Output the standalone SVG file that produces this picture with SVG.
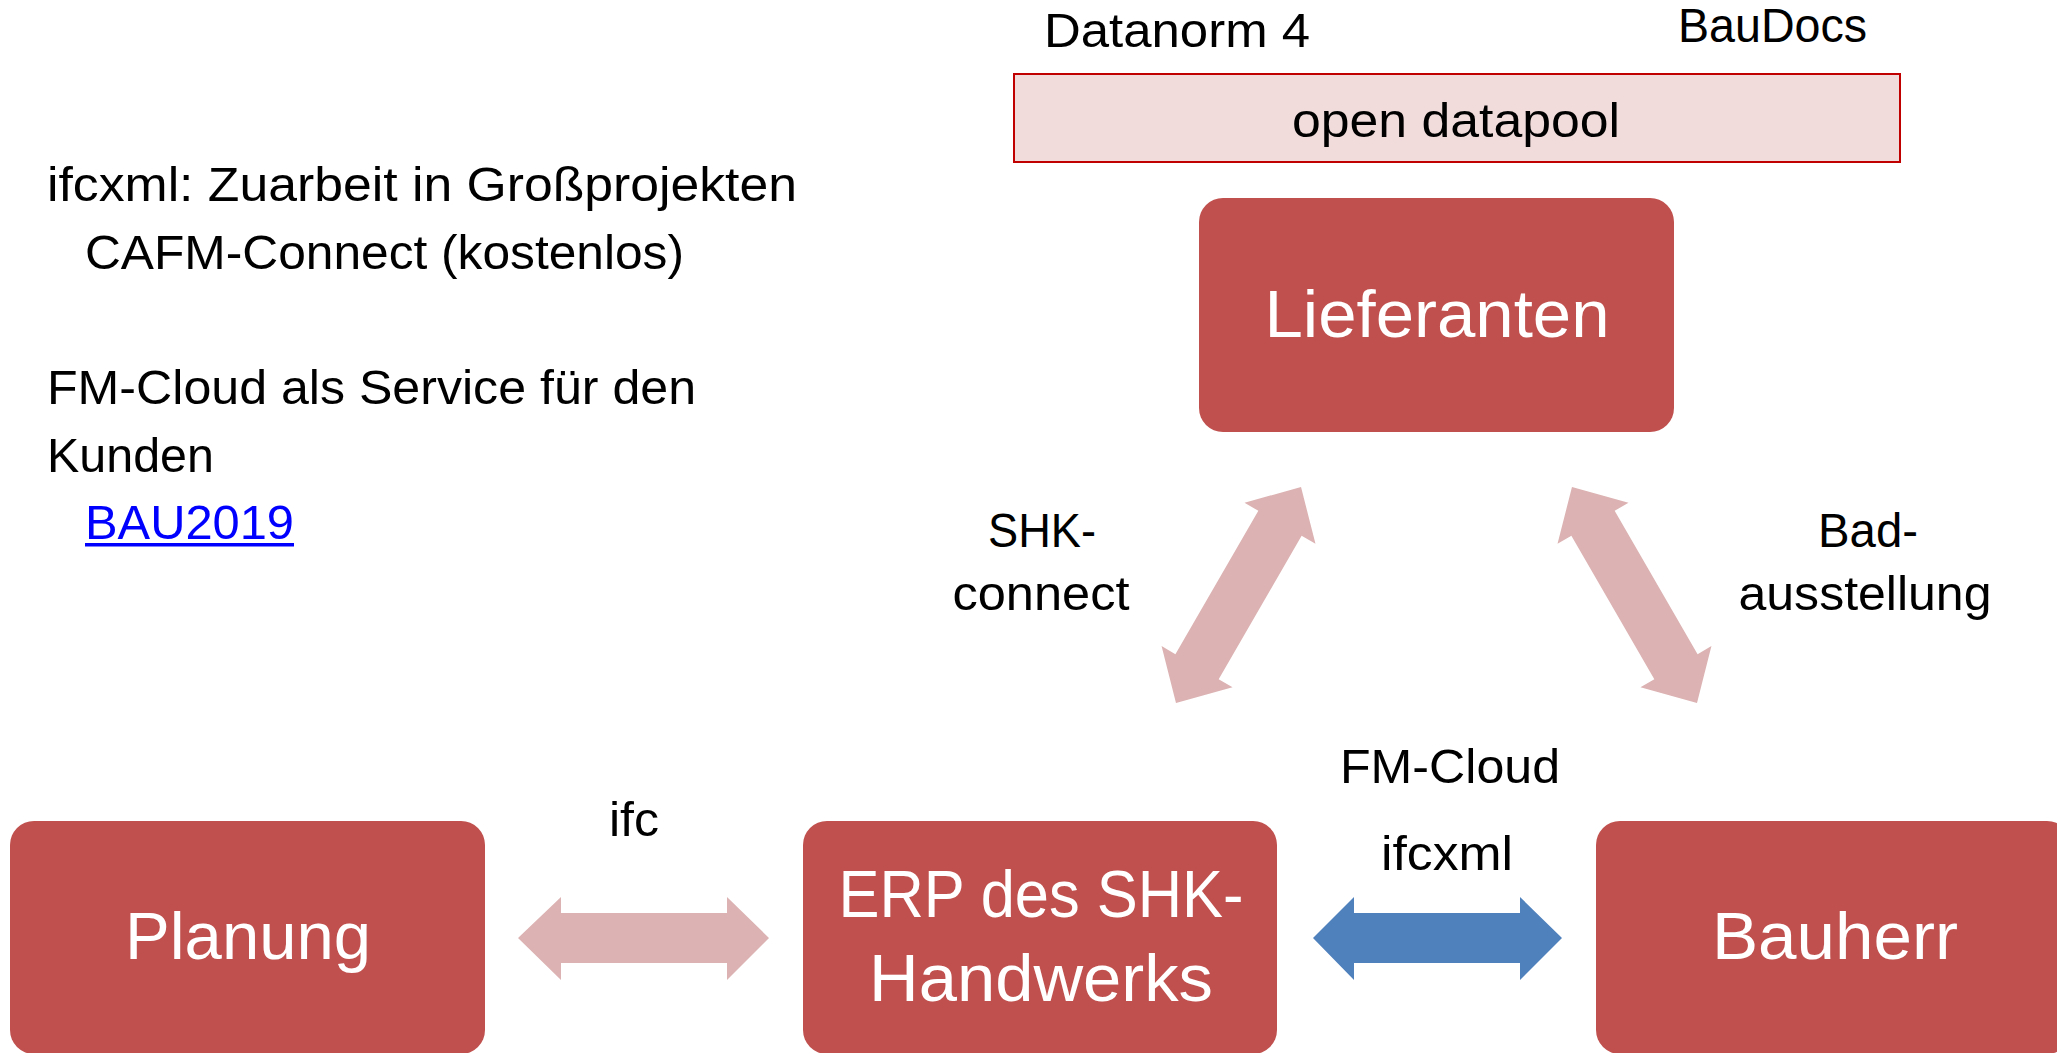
<svg xmlns="http://www.w3.org/2000/svg" width="2057" height="1053" viewBox="0 0 2057 1053">
<style>
.t{font-family:"Liberation Sans",Arial,sans-serif;font-size:48px;fill:#000}
.n{font-family:"Liberation Sans",Arial,sans-serif;font-size:66px;fill:#fff;text-anchor:middle}
.box{fill:#c0504d}
.pk{fill:#dcb2b2}
.bl{fill:#4f81bd}
</style>
<defs>
<polygon id="dbl" points="0,0 42,-41 42,-25 207.6,-25 207.6,-41 249.6,0 207.6,41 207.6,25 42,25 42,41"/>
</defs>
<rect width="2057" height="1053" fill="#fff"/>
<g id="annotations">
<text class="t" x="47" y="201" textLength="750" lengthAdjust="spacingAndGlyphs">ifcxml: Zuarbeit in Großprojekten</text>
<text class="t" x="85" y="269" textLength="599" lengthAdjust="spacingAndGlyphs">CAFM-Connect (kostenlos)</text>
<text class="t" x="47" y="404" textLength="649" lengthAdjust="spacingAndGlyphs">FM-Cloud als Service für den</text>
<text class="t" x="47" y="472" textLength="167" lengthAdjust="spacingAndGlyphs">Kunden</text>
<text class="t" x="85" y="539" textLength="209" lengthAdjust="spacingAndGlyphs" style="fill:#0000ff">BAU2019</text>
<rect x="85" y="543" width="209" height="3.5" fill="#0000ff"/>
<text class="t" x="1044" y="47" textLength="266" lengthAdjust="spacingAndGlyphs">Datanorm 4</text>
<text class="t" x="1678" y="42" textLength="189" lengthAdjust="spacingAndGlyphs">BauDocs</text>
</g>
<g id="datapool">
<rect x="1014" y="74" width="886" height="88" fill="#f2dcdb" stroke="#c00000" stroke-width="2"/>
<text class="t" x="1456" y="137" text-anchor="middle" textLength="328" lengthAdjust="spacingAndGlyphs">open datapool</text>
</g>
<g id="lieferanten">
<rect class="box" x="1199" y="198" width="475" height="234" rx="24"/>
<text class="n" x="1437" y="337" textLength="345" lengthAdjust="spacingAndGlyphs">Lieferanten</text>
</g>
<g id="planung">
<rect class="box" x="10" y="821" width="475" height="233" rx="24"/>
<text class="n" x="248" y="959" textLength="246" lengthAdjust="spacingAndGlyphs">Planung</text>
</g>
<g id="erp">
<rect class="box" x="803" y="821" width="474" height="233" rx="24"/>
<text class="n" x="1041" y="917" textLength="405" lengthAdjust="spacingAndGlyphs">ERP des SHK-</text>
<text class="n" x="1041" y="1001" textLength="344" lengthAdjust="spacingAndGlyphs">Handwerks</text>
</g>
<g id="bauherr">
<rect class="box" x="1596" y="821" width="475" height="233" rx="24"/>
<text class="n" x="1835" y="959" textLength="246" lengthAdjust="spacingAndGlyphs">Bauherr</text>
</g>
<g id="connectors">
<use href="#dbl" class="pk" transform="translate(1176,703) rotate(-59.94)"/>
<use href="#dbl" class="pk" transform="translate(1697,703) rotate(-120.06)"/>
<polygon class="pk" points="518,938 561,897 561,913 727,913 727,897 769,938 727,980 727,963 561,963 561,980"/>
<polygon class="bl" points="1313,938 1354,897 1354,913 1520,913 1520,897 1562,938 1520,980 1520,963 1354,963 1354,980"/>
</g>
<g id="labels">
<text class="t" x="1042" y="547" text-anchor="middle" textLength="108" lengthAdjust="spacingAndGlyphs">SHK-</text>
<text class="t" x="1041" y="610" text-anchor="middle" textLength="177" lengthAdjust="spacingAndGlyphs">connect</text>
<text class="t" x="1868" y="547" text-anchor="middle" textLength="100" lengthAdjust="spacingAndGlyphs">Bad-</text>
<text class="t" x="1865" y="610" text-anchor="middle" textLength="253" lengthAdjust="spacingAndGlyphs">ausstellung</text>
<text class="t" x="1450" y="783" text-anchor="middle" textLength="220" lengthAdjust="spacingAndGlyphs">FM-Cloud</text>
<text class="t" x="1447" y="870" text-anchor="middle" textLength="132" lengthAdjust="spacingAndGlyphs">ifcxml</text>
<text class="t" x="634" y="836" text-anchor="middle" textLength="50" lengthAdjust="spacingAndGlyphs">ifc</text>
</g>
</svg>
